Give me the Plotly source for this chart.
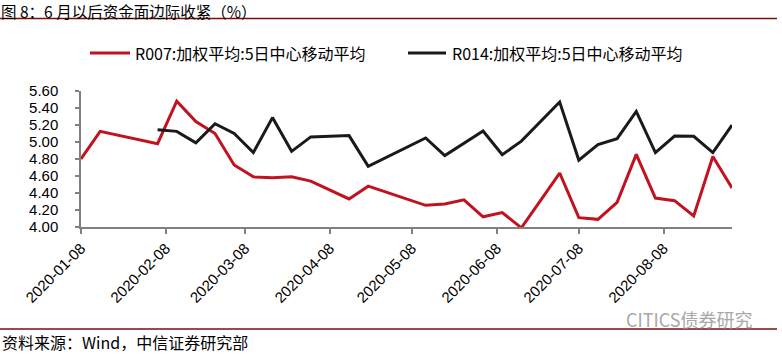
import plotly.graph_objects as go

# ---------------- data ----------------
red_dates = ["2020-01-08", "2020-01-15", "2020-02-05", "2020-02-12", "2020-02-19", "2020-02-26",
             "2020-03-04", "2020-03-11", "2020-03-18", "2020-03-25", "2020-04-01", "2020-04-15",
             "2020-04-22", "2020-05-13", "2020-05-20", "2020-05-27", "2020-06-03", "2020-06-10",
             "2020-06-17", "2020-07-01", "2020-07-08", "2020-07-15", "2020-07-22", "2020-07-29",
             "2020-08-05", "2020-08-12", "2020-08-19", "2020-08-26", "2020-09-02"]
red_values = [4.80, 5.125, 4.98, 5.48, 5.24, 5.10, 4.73, 4.59, 4.58, 4.59, 4.54, 4.33, 4.48,
              4.255, 4.27, 4.32, 4.12, 4.17, 3.99, 4.635, 4.11, 4.09, 4.29, 4.855, 4.34, 4.31,
              4.13, 4.83, 4.46]

black_dates = red_dates[2:]
black_values = [5.145, 5.125, 4.99, 5.215, 5.10, 4.875, 5.287, 4.89, 5.06, 5.075, 4.714,
                5.047, 4.84, 4.98, 5.13, 4.85, 5.01, 5.47, 4.785, 4.97, 5.04, 5.36, 4.875,
                5.07, 5.067, 4.875, 5.20]

red_name = "R007:加权平均:5日中心移动平均"
black_name = "R014:加权平均:5日中心移动平均"

x_tick_vals = ["2020-01-08", "2020-02-08", "2020-03-08", "2020-04-08",
               "2020-05-08", "2020-06-08", "2020-07-08", "2020-08-08"]
y_tick_vals = [4.0, 4.2, 4.4, 4.6, 4.8, 5.0, 5.2, 5.4, 5.6]

title_text = "图 8：6 月以后资金面边际收紧（%）"
source_text = "资料来源：Wind，中信证券研究部"
watermark_text = "CITICS债券研究"

# ---------------- layout helpers ----------------
W, H = 782, 354
L, R, T, B = 81, 732, 91, 227
def px_x(p):
    return (p - L) / (R - L)
def px_y(p):
    return (B - p) / (B - T)

FONT = "Liberation Sans, Arial, Noto Sans CJK SC, sans-serif"
CJK = "Noto Sans CJK SC, Liberation Sans, sans-serif"
RED = "#C1121F"
BLACK = "#1A1A1A"
DARKRED = "#7A0C0C"

fig = go.Figure()
fig.add_trace(go.Scatter(x=red_dates, y=red_values, mode="lines", name=red_name,
                         line=dict(color=RED, width=3), showlegend=False))
fig.add_trace(go.Scatter(x=black_dates, y=black_values, mode="lines", name=black_name,
                         line=dict(color=BLACK, width=3), showlegend=False))

fig.update_layout(
    width=W, height=H,
    margin=dict(l=L, r=W - R, t=T, b=H - B, pad=0),
    paper_bgcolor="white", plot_bgcolor="white",
    font=dict(family=FONT, size=15, color="#000000"),
    showlegend=False,
    xaxis=dict(type="date", range=["2020-01-08", "2020-09-02"],
               tickvals=x_tick_vals, ticktext=x_tick_vals, tickangle=-45,
               showgrid=False, zeroline=False, showline=True, linecolor="#808080", linewidth=1.5,
               ticks="outside", ticklen=5, tickcolor="#808080", tickwidth=1.5,
               tickfont=dict(size=15)),
    yaxis=dict(range=[4.0, 5.6], tickvals=y_tick_vals, tickformat=".2f",
               showgrid=False, zeroline=False, showline=True, linecolor="#808080", linewidth=1.5,
               ticks="outside", ticklen=4, tickcolor="#808080", tickwidth=1.5,
               tickfont=dict(size=15), ticklabelstandoff=14),
)

# legend drawn manually (line samples + labels)
legend_items = [(red_name, RED, 90, 130, 133), (black_name, BLACK, 408, 446, 450)]
LEG_Y = 53

shapes = [
    dict(type="line", xref="paper", yref="paper", x0=px_x(0), x1=px_x(777),
         y0=px_y(18.5), y1=px_y(18.5), line=dict(color=DARKRED, width=1.5)),
    dict(type="line", xref="paper", yref="paper", x0=px_x(0), x1=px_x(777),
         y0=px_y(329), y1=px_y(329), line=dict(color=DARKRED, width=1.5)),
]
annotations = [
    dict(text=title_text, xref="paper", yref="paper", x=px_x(0), y=px_y(10.5),
         xanchor="left", yanchor="middle", showarrow=False, borderpad=0,
         font=dict(family=CJK, size=15.5, color="#000000")),
    dict(text=source_text, xref="paper", yref="paper", x=px_x(0), y=px_y(342),
         xanchor="left", yanchor="middle", showarrow=False,
         font=dict(family=CJK, size=16, color="#000000")),
    dict(text=watermark_text, xref="paper", yref="paper", x=px_x(624), y=px_y(319),
         xanchor="left", yanchor="middle", showarrow=False,
         font=dict(family=CJK, size=18, color="#A8A8A8")),
]
for name, color, x0, x1, xt in legend_items:
    shapes.append(dict(type="line", xref="paper", yref="paper", x0=px_x(x0), x1=px_x(x1),
                       y0=px_y(LEG_Y), y1=px_y(LEG_Y), line=dict(color=color, width=3)))
    annotations.append(dict(text=name, xref="paper", yref="paper", x=px_x(xt), y=px_y(LEG_Y),
                            xanchor="left", yanchor="middle", showarrow=False,
                            font=dict(family=CJK, size=16, color="#000000")))

fig.update_layout(shapes=shapes, annotations=annotations)

fig.write_html("out.html")
